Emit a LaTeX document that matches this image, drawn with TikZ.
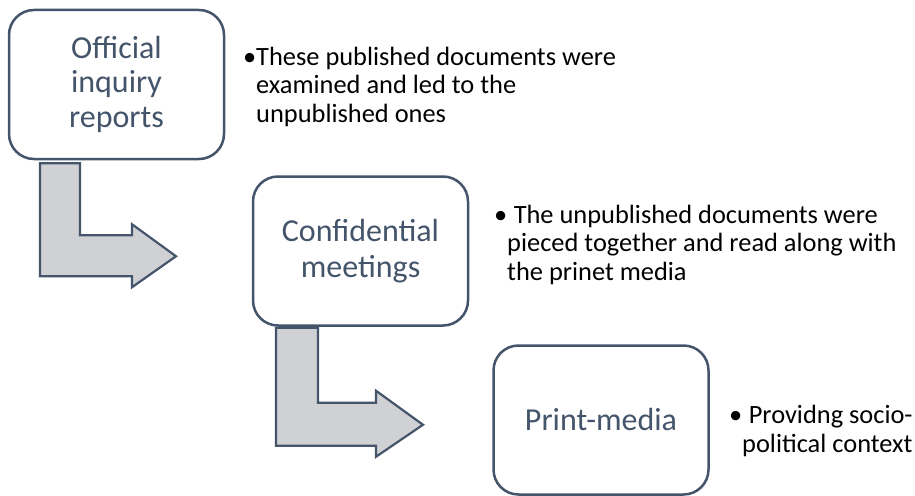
\documentclass[tikz,border=0pt]{standalone}
\usepackage{fontspec}
\setmainfont{Carlito}
\definecolor{slate}{HTML}{44546A}
\definecolor{arrowfill}{HTML}{D0D1D5}
\begin{document}
\begin{tikzpicture}[x=1pt,y=-1pt,
  stage/.style={draw=slate, line width=2.5pt, rounded corners=25pt, fill=white,
    minimum width=215pt, minimum height=149pt, inner sep=0pt, align=center,
    text=slate, font=\fontsize{32}{35.5}\selectfont},
  note/.style={anchor=base west, inner sep=0pt, align=left, text=black,
    font=\fontsize{26.4}{28.4}\selectfont},
  bentarrow/.style={draw=slate, line width=2.2pt, fill=arrowfill, line join=miter}]
\useasboundingbox (0,0) rectangle (915,495);

% stage boxes
\node[stage] (b1) at (116.5,84.5) {\raisebox{-2pt}{Official}\\inquiry\\reports};
\node[stage] (b2) at (360.5,251) {Confidential\\meetings};
\node[stage] (b3) at (601,420) {Print-media};

% notes beside each stage (anchored on the baseline of the last line)
\node[note] (n1) at (256,122) {\llap{•}These published documents were\\examined and led to the\\unpublished ones};
\node[note] (n2) at (507,280) {\llap{•}\hspace*{0.25em}The unpublished documents were\\pieced together and read along with\\the prinet media};
\node[note] (n3) at (742,452) {\llap{•}\hspace*{0.25em}Providng socio-\\political context};

% bent block arrows between stages
\draw[bentarrow] ([xshift=-76.5pt,yshift=-3pt]b1.south) -- ++(40,0) -- ++(0,72) -- ++(52,0)
  -- ++(0,-11) -- ++(44,32) -- ++(-44,31) -- ++(0,-11) -- ++(-92,0) -- cycle;
\draw[bentarrow] ([xshift=-84.5pt,yshift=-1pt]b2.south) -- ++(42,0) -- ++(0,75) -- ++(58,0)
  -- ++(0,-12) -- ++(47,34) -- ++(-47,32) -- ++(0,-11) -- ++(-100,0) -- cycle;
\end{tikzpicture}
\end{document}
